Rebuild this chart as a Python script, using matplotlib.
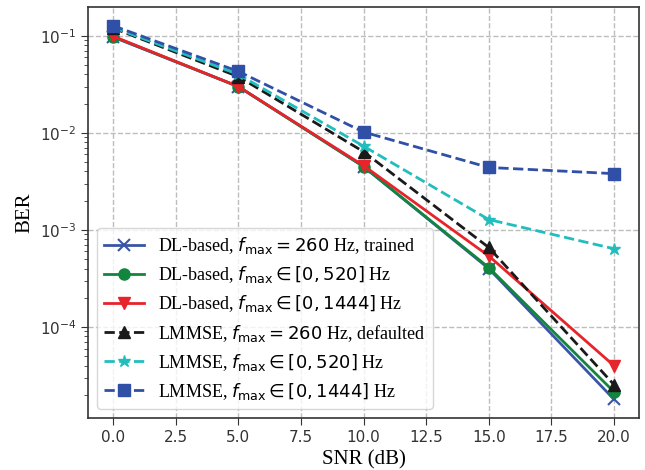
import matplotlib
matplotlib.use("Agg")
import matplotlib.pyplot as plt

snr_db = [0, 5, 10, 15, 20]

dl_trained = [0.097, 0.030, 0.0045, 0.00040, 1.8e-5]
dl_520 = [0.098, 0.030, 0.0045, 0.00041, 2.15e-5]
dl_1444 = [0.099, 0.030, 0.0046, 0.00054, 4.0e-5]
lmmse_default = [0.120, 0.038, 0.0064, 0.00066, 2.55e-5]
lmmse_520 = [0.122, 0.040, 0.0073, 0.00128, 0.00064]
lmmse_1444 = [0.127, 0.043, 0.0102, 0.0044, 0.00380]

labels = [
    r"DL-based, $f_{\max}=260$ Hz, trained",
    r"DL-based, $f_{\max}\in[0,520]$ Hz",
    r"DL-based, $f_{\max}\in[0,1444]$ Hz",
    r"LMMSE, $f_{\max}=260$ Hz, defaulted",
    r"LMMSE, $f_{\max}\in[0,520]$ Hz",
    r"LMMSE, $f_{\max}\in[0,1444]$ Hz",
]

serif = "Liberation Serif"

fig = plt.figure(figsize=(6.45, 4.70), dpi=100)
ax = fig.add_axes([88 / 645, 1 - 418 / 470, (639 - 88) / 645, (418 - 7) / 470])

ax.plot(snr_db, dl_trained, color="#3a55a8", marker="x", ms=8, mew=1.5, lw=2, label=labels[0])
ax.plot(snr_db, dl_520, color="#12853f", marker="o", ms=8, lw=2, label=labels[1])
ax.plot(snr_db, dl_1444, color="#e8242b", marker="v", ms=9, lw=2, label=labels[2])
ax.plot(snr_db, lmmse_default, color="#1a1a1a", marker="^", ms=8, lw=2, ls="--", label=labels[3])
ax.plot(snr_db, lmmse_520, color="#22bdbd", marker="*", ms=9, lw=2, ls="--", label=labels[4])
ax.plot(snr_db, lmmse_1444, color="#3050a8", marker="s", ms=8, lw=2, ls="--", label=labels[5])

ax.set_yscale("log")
ax.set_xticks([0, 2.5, 5, 7.5, 10, 12.5, 15, 17.5, 20])
ax.grid(True, which="major", ls="--", color="#bdbdbd", lw=1)
ax.set_axisbelow(True)

for s in ax.spines.values():
    s.set_color("#333333")
    s.set_linewidth(1.2)
ax.tick_params(which="both", colors="#333333", labelsize=11)
ax.tick_params(which="major", length=5)
ax.tick_params(which="minor", length=3)

ax.set_xlabel("SNR (dB)", fontfamily=serif, fontsize=15)
ax.set_ylabel("BER", fontfamily=serif, fontsize=15)

leg = ax.legend(loc="lower left", prop={"family": serif, "size": 13},
                framealpha=0.8, edgecolor="#cccccc", fancybox=True,
                handlelength=2.2, labelspacing=0.45)

fig.savefig("out.png", dpi=100)
